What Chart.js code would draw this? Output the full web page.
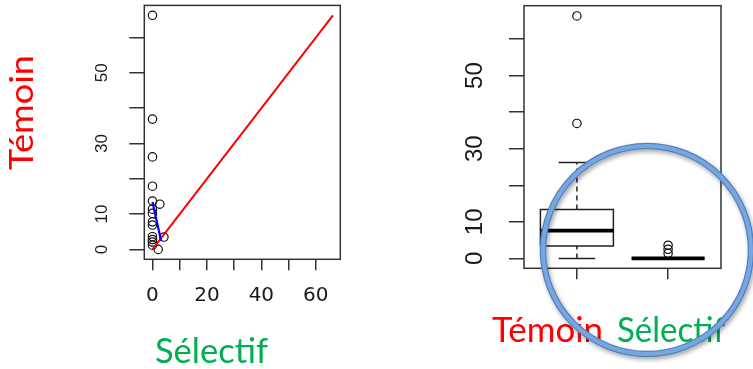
<!DOCTYPE html>
<html>
<head>
<meta charset="utf-8">
<script src="https://cdn.jsdelivr.net/npm/chart.js@4/dist/chart.umd.min.js"></script>
<style>
html,body{margin:0;padding:0;background:#fff;}
#wrap{position:relative;width:753px;height:369px;overflow:hidden;background:#fff;}
canvas,svg{position:absolute;left:0;top:0;}
</style>
</head>
<body>
<div id="wrap">
<canvas id="c1" width="753" height="369"></canvas>
<canvas id="c2" width="753" height="369"></canvas>
<svg id="ov" width="753" height="369" xmlns="http://www.w3.org/2000/svg">
  <defs>
    <filter id="sh" x="-20%" y="-20%" width="140%" height="140%">
      <feDropShadow dx="1.5" dy="2.5" stdDeviation="2" flood-color="#000" flood-opacity="0.35"/>
    </filter>
  </defs>
  <text id="tLeft" transform="translate(33,170) rotate(-90)" font-family="Lato, 'Open Sans', sans-serif" font-size="33" fill="#ff0000" textLength="115" lengthAdjust="spacingAndGlyphs"></text>
  <text id="sBottom" x="155" y="363" font-family="Lato, 'Open Sans', sans-serif" font-size="35" fill="#00b050" textLength="113" lengthAdjust="spacingAndGlyphs"></text>
  <text id="tRight" x="492" y="342" font-family="Lato, 'Open Sans', sans-serif" font-size="34" fill="#ff0000" textLength="111" lengthAdjust="spacingAndGlyphs"></text>
  <text id="sRight" x="617" y="342" font-family="Lato, 'Open Sans', sans-serif" font-size="34" fill="#00b050" textLength="108" lengthAdjust="spacingAndGlyphs"></text>
  <g filter="url(#sh)">
    <circle cx="647" cy="250" r="104" fill="none" stroke="#4f80c2" stroke-width="6.5"/>
    <circle cx="647" cy="250" r="104" fill="none" stroke="#7aa6de" stroke-width="4"/>
  </g>
</svg>
</div>
<script>
// ---- data ----
const groups = ['Témoin', 'Sélectif'];
const selectif = [0, 0, 0, 0, 0, 2.7, 0, 0, 0, 0, 0, 4.2, 0, 0, 0, 2.1];
const temoin   = [66.3, 36.9, 26.2, 17.9, 13.7, 12.8, 11.4, 10.2, 7.8, 6.9, 3.6, 3.5, 2.8, 2.1, 1.2, 0];
const refLineX = [0, 66.3];
const refLineY = [0, 66.3];
const fitLineX = [0, 3.2];
const fitLineY = [13.4, 2.4];
const tickValues = [0, 10, 20, 30, 40, 50, 60];
const scatterXLabels = ['0', '', '20', '', '40', '', '60'];
const scatterYLabels = ['0', '10', '', '30', '', '50', ''];
const boxYLabels = ['0', '10', '', '30', '', '50', ''];
const groupPos = [1, 2];
const boxLow = [0, 0];
const boxQ1 = [3.4, 0];
const boxMedian = [7.6, 0];
const boxQ3 = [13.4, 0];
const boxHigh = [26.2, 0];
const boxOutliers = [[36.9, 66.3], [1.4, 2.5, 3.6]];

// ---- text overlays ----
document.getElementById('tLeft').textContent = groups[0];
document.getElementById('sBottom').textContent = groups[1];
document.getElementById('tRight').textContent = groups[0];
document.getElementById('sRight').textContent = groups[1];

Chart.defaults.animation = false;

const frame = {
  id: 'frame',
  afterDatasetsDraw(chart) {
    const {ctx, chartArea: a} = chart;
    ctx.save();
    ctx.strokeStyle = '#333';
    ctx.lineWidth = 1.5;
    ctx.strokeRect(a.left, a.top, a.right - a.left, a.bottom - a.top);
    ctx.restore();
  }
};

function tickLabel(labels) {
  return function (value) {
    const i = tickValues.indexOf(value);
    return i < 0 ? '' : labels[i];
  };
}

function yAxis(min, max, labels, font, pad, width) {
  return {
    type: 'linear', min, max,
    afterBuildTicks: s => { s.ticks = tickValues.map(v => ({value: v})); },
    afterFit: s => { s.width = width; s.paddingTop = 0; s.paddingBottom = 0; },
    ticks: {callback: tickLabel(labels), minRotation: 90, maxRotation: 90, crossAlign: 'center',
            padding: pad, font, color: '#1a1a1a', autoSkip: false},
    grid: {drawOnChartArea: false, drawTicks: true, tickLength: 15, color: '#333', lineWidth: 1.5},
    border: {display: false}
  };
}

function pts(xs, ys) { return xs.map((x, i) => ({x, y: ys[i]})); }

function lineSet(data, color, width, dash) {
  return {data, showLine: true, borderColor: color, borderWidth: width, borderDash: dash || [],
          pointRadius: 0, pointHoverRadius: 0, fill: false, tension: 0, borderCapStyle: 'butt'};
}

// ---- left: scatter ----
new Chart(document.getElementById('c1'), {
  type: 'scatter',
  data: {
    datasets: [
      lineSet(pts(fitLineX, fitLineY), '#0000ff', 2.2),
      lineSet(pts(refLineX, refLineY), '#ff0000', 2),
      {data: pts(selectif, temoin), pointStyle: 'circle', pointRadius: 4.2, pointBorderWidth: 1.2,
       pointBorderColor: '#111', pointBackgroundColor: 'rgba(0,0,0,0)', showLine: false}
    ]
  },
  options: {
    responsive: false, devicePixelRatio: 1, animation: false,
    layout: {padding: {left: 84.3, top: 4.7, right: 412.7, bottom: 49.7}},
    plugins: {legend: {display: false}, tooltip: {enabled: false}},
    scales: {
      x: {
        type: 'linear', min: -3.0, max: 69.0,
        afterBuildTicks: s => { s.ticks = tickValues.map(v => ({value: v})); },
        afterFit: s => { s.height = 60; s.paddingLeft = 0; s.paddingRight = 0; },
        ticks: {callback: tickLabel(scatterXLabels), minRotation: 0, maxRotation: 0, padding: 13,
                font: {family: 'DejaVu Sans', size: 20}, color: '#1a1a1a', autoSkip: false},
        grid: {drawOnChartArea: false, drawTicks: true, tickLength: 11, color: '#333', lineWidth: 1.5},
        border: {display: false}
      },
      y: yAxis(-2.8, 69.1, scatterYLabels, {family: 'Liberation Sans', size: 17}, 17.4, 60)
    }
  },
  plugins: [frame]
});

// ---- right: box plot ----
const boxSets = [];
groupPos.forEach((p, i) => {
  const hw = 0.4, cw = 0.2;
  boxSets.push(lineSet([{x: p - hw, y: boxMedian[i]}, {x: p + hw, y: boxMedian[i]}], '#000', 3.8));
  boxSets.push(lineSet([{x: p - hw, y: boxQ1[i]}, {x: p + hw, y: boxQ1[i]}, {x: p + hw, y: boxQ3[i]},
                        {x: p - hw, y: boxQ3[i]}, {x: p - hw, y: boxQ1[i]}], '#222', 1.5));
  boxSets.push(lineSet([{x: p, y: boxQ3[i]}, {x: p, y: boxHigh[i]}], '#222', 1.5, [5, 4]));
  boxSets.push(lineSet([{x: p, y: boxLow[i]}, {x: p, y: boxQ1[i]}], '#222', 1.5, [5, 4]));
  boxSets.push(lineSet([{x: p - cw, y: boxHigh[i]}, {x: p + cw, y: boxHigh[i]}], '#222', 1.5));
  boxSets.push(lineSet([{x: p - cw, y: boxLow[i]}, {x: p + cw, y: boxLow[i]}], '#222', 1.5));
  boxSets.push({data: boxOutliers[i].map(v => ({x: p, y: v})), pointStyle: 'circle', pointRadius: 4.2,
                pointBorderWidth: 1.2, pointBorderColor: '#111', pointBackgroundColor: 'rgba(0,0,0,0)', showLine: false});
});

new Chart(document.getElementById('c2'), {
  type: 'scatter',
  data: {datasets: boxSets},
  options: {
    responsive: false, devicePixelRatio: 1, animation: false,
    layout: {padding: {left: 464, top: 5.7, right: 32, bottom: 60.7}},
    plugins: {legend: {display: false}, tooltip: {enabled: false}},
    scales: {
      x: {
        type: 'linear', min: 0.42, max: 2.58,
        afterBuildTicks: s => { s.ticks = groupPos.map(v => ({value: v})); },
        afterFit: s => { s.height = 40; s.paddingLeft = 0; s.paddingRight = 0; },
        ticks: {callback: () => '', minRotation: 0, maxRotation: 0, autoSkip: false},
        grid: {drawOnChartArea: false, drawTicks: true, tickLength: 11, color: '#333', lineWidth: 1.5},
        border: {display: false}
      },
      y: yAxis(-2.7, 69.1, boxYLabels, {family: "'Liberation Sans Narrow', 'Liberation Sans'", size: 24}, 20.6, 60)
    }
  },
  plugins: [frame]
});
</script>
</body>
</html>
